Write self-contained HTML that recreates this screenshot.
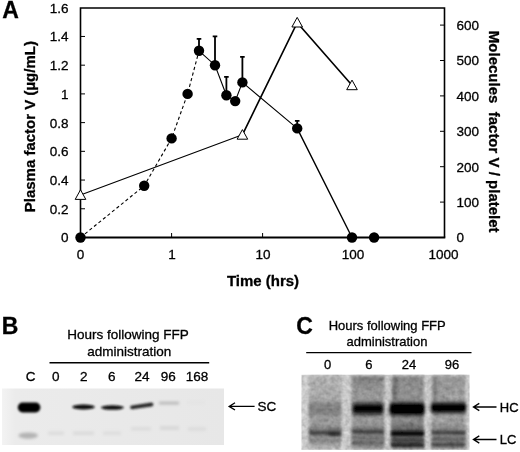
<!DOCTYPE html>
<html><head><meta charset="utf-8"><title>Figure</title>
<style>
html,body{margin:0;padding:0;background:#fff;}
svg{display:block;filter:blur(0.35px);}
text{font-family:"Liberation Sans",Arial,Helvetica,sans-serif;fill:#000;stroke:#000;stroke-width:0.3px;}
.t{font-size:13.5px;}
.tc{font-size:13px;}
.b{font-weight:bold;font-size:15px;}
.p{font-weight:bold;font-size:23px;}
</style></head><body>
<svg width="520" height="452" viewBox="0 0 520 452">
<defs>
<filter id="b1" x="-20%" y="-100%" width="140%" height="300%"><feGaussianBlur stdDeviation="1.1"/></filter>
<filter id="b2" x="-20%" y="-100%" width="140%" height="300%"><feGaussianBlur stdDeviation="1.8"/></filter>
<filter id="b3" x="-20%" y="-100%" width="140%" height="300%"><feGaussianBlur stdDeviation="2.6"/></filter>
<filter id="b05" x="-20%" y="-100%" width="140%" height="300%"><feGaussianBlur stdDeviation="0.6"/></filter>
<linearGradient id="gB" x1="0" x2="1" y1="0" y2="0"><stop offset="0" stop-color="#f3f3f3"/><stop offset="0.06" stop-color="#ebebeb"/><stop offset="1" stop-color="#e7e7e7"/></linearGradient>
<linearGradient id="g0" x1="0" x2="0" y1="0" y2="1"><stop offset="0" stop-color="#c2c2c2"/><stop offset="0.3" stop-color="#bababa"/><stop offset="0.62" stop-color="#adadad"/><stop offset="0.72" stop-color="#929292"/><stop offset="0.9" stop-color="#a8a8a8"/><stop offset="1" stop-color="#c6c6c6"/></linearGradient>
<linearGradient id="g6" x1="0" x2="0" y1="0" y2="1"><stop offset="0" stop-color="#888"/><stop offset="0.2" stop-color="#a6a6a6"/><stop offset="0.62" stop-color="#a8a8a8"/><stop offset="0.72" stop-color="#8c8c8c"/><stop offset="1" stop-color="#969696"/></linearGradient>
<linearGradient id="g24" x1="0" x2="0" y1="0" y2="1"><stop offset="0" stop-color="#949494"/><stop offset="0.25" stop-color="#a0a0a0"/><stop offset="0.6" stop-color="#9c9c9c"/><stop offset="0.72" stop-color="#727272"/><stop offset="1" stop-color="#767676"/></linearGradient>
<linearGradient id="g96" x1="0" x2="0" y1="0" y2="1"><stop offset="0" stop-color="#a2a2a2"/><stop offset="0.25" stop-color="#adadad"/><stop offset="0.62" stop-color="#b0b0b0"/><stop offset="0.74" stop-color="#8e8e8e"/><stop offset="1" stop-color="#929292"/></linearGradient>
<filter id="bh" x="-20%" y="-100%" width="140%" height="300%"><feGaussianBlur stdDeviation="1.6 2.3"/></filter>
<filter id="b15" x="-20%" y="-100%" width="140%" height="300%"><feGaussianBlur stdDeviation="1.6 1.4"/></filter>
<filter id="noise" x="0" y="0" width="100%" height="100%"><feTurbulence type="fractalNoise" baseFrequency="0.22" numOctaves="2" seed="3" result="n"/><feColorMatrix in="n" type="matrix" values="0 0 0 0 0  0 0 0 0 0  0 0 0 0 0  0.35 0.35 0 -0.3 0" result="a"/><feComposite in="a" in2="SourceGraphic" operator="in" result="na"/><feMerge><feMergeNode in="SourceGraphic"/><feMergeNode in="na"/></feMerge></filter>
</defs>
<rect width="520" height="452" fill="#fff"/>

<g stroke="#000" fill="none">
<path d="M80.5 237.5V8H444.5V237.5" stroke-width="1.6"/>
<path d="M79.7 237.5H445.3" stroke-width="1.8"/>
<path d="M80.5 208.78h4.5M80.5 180.06h4.5M80.5 151.34h4.5M80.5 122.62h4.5M80.5 93.90h4.5M80.5 65.18h4.5M80.5 36.46h4.5M444.5 202.10h-4.5M444.5 166.70h-4.5M444.5 131.30h-4.5M444.5 95.90h-4.5M444.5 60.50h-4.5M444.5 25.10h-4.5M171.60 237.5v-4.5M262.60 237.5v-4.5M353.60 237.5v-4.5" stroke-width="1"/>
</g>
<text class="t" x="68.5" y="242.40" text-anchor="end">0</text>
<text class="t" x="68.5" y="213.68" text-anchor="end">0.2</text>
<text class="t" x="68.5" y="184.96" text-anchor="end">0.4</text>
<text class="t" x="68.5" y="156.24" text-anchor="end">0.6</text>
<text class="t" x="68.5" y="127.52" text-anchor="end">0.8</text>
<text class="t" x="68.5" y="98.80" text-anchor="end">1</text>
<text class="t" x="68.5" y="70.08" text-anchor="end">1.2</text>
<text class="t" x="68.5" y="41.36" text-anchor="end">1.4</text>
<text class="t" x="68.5" y="12.64" text-anchor="end">1.6</text>
<text class="t" x="456.5" y="242.40">0</text>
<text class="t" x="456.5" y="207.00">100</text>
<text class="t" x="456.5" y="171.60">200</text>
<text class="t" x="456.5" y="136.20">300</text>
<text class="t" x="456.5" y="100.80">400</text>
<text class="t" x="456.5" y="65.40">500</text>
<text class="t" x="456.5" y="30.00">600</text>
<text class="t" x="80.50" y="259.3" text-anchor="middle">0</text>
<text class="t" x="172.00" y="259.3" text-anchor="middle">1</text>
<text class="t" x="263.00" y="259.3" text-anchor="middle">10</text>
<text class="t" x="353.00" y="259.3" text-anchor="middle">100</text>
<text class="t" x="443.50" y="259.3" text-anchor="middle">1000</text>
<text class="b" x="263" y="286.2" text-anchor="middle">Time (hrs)</text>
<text class="b" transform="translate(35.3 126.7) rotate(-90)" text-anchor="middle">Plasma factor V (µg/mL)</text>
<text class="b" transform="translate(489.3 131.7) rotate(90)" text-anchor="middle" xml:space="preserve">Molecules  factor V / platelet</text>
<text class="p" x="2.3" y="18.3">A</text>
<text class="p" x="1.8" y="334.2">B</text>
<text class="p" x="296.3" y="334.3">C</text>
<g stroke="#000" fill="none" stroke-linecap="round">
<path d="M80.5 237.5 L144.2 185.8 L171.6 138.4 L187.6 93.9 L199.0 50.8" stroke-width="1.1" stroke-dasharray="3.2 2.6" stroke-linecap="butt"/>
<path d="M199.0 50.8 L215.0 65.2 L226.4 95.3 L235.2 101.1 L242.4 82.4 L297.2 128.4" stroke-width="1.1"/>
<path d="M297.2 128.4 L352.0 237.5" stroke-width="1.4"/>
<path d="M80.5 195.0 L242.4 134.8" stroke-width="1.1"/>
<path d="M242.4 134.8 L297.2 22.6 L352.0 85.3" stroke-width="1.6"/>
<path d="M199.0 50.8V38.8M196.7 38.8h4.6M215.0 65.2V36.3M212.7 36.3h4.6M226.4 95.3V76.8M224.1 76.8h4.6M242.4 82.4V56.8M240.1 56.8h4.6M297.2 128.4V120.8M294.9 120.8h4.6" stroke-width="1.8" stroke-linecap="butt"/>
</g>
<circle cx="80.5" cy="237.5" r="5.2" fill="#000"/>
<circle cx="144.2" cy="185.8" r="5.2" fill="#000"/>
<circle cx="171.6" cy="138.4" r="5.2" fill="#000"/>
<circle cx="187.6" cy="93.9" r="5.2" fill="#000"/>
<circle cx="199.0" cy="50.8" r="5.2" fill="#000"/>
<circle cx="215.0" cy="65.2" r="5.2" fill="#000"/>
<circle cx="226.4" cy="95.3" r="5.2" fill="#000"/>
<circle cx="235.2" cy="101.1" r="5.2" fill="#000"/>
<circle cx="242.4" cy="82.4" r="5.2" fill="#000"/>
<circle cx="297.2" cy="128.4" r="5.2" fill="#000"/>
<circle cx="352.0" cy="237.5" r="5.2" fill="#000"/>
<circle cx="374.1" cy="237.5" r="5.2" fill="#000"/>
<path d="M80.5 189.8l5.3 9.6h-10.6z" fill="#fff" stroke="#000" stroke-width="1"/>
<path d="M242.4 129.6l5.3 9.6h-10.6z" fill="#fff" stroke="#000" stroke-width="1"/>
<path d="M297.2 17.4l5.3 9.6h-10.6z" fill="#fff" stroke="#000" stroke-width="1"/>
<path d="M352.0 80.1l5.3 9.6h-10.6z" fill="#fff" stroke="#000" stroke-width="1"/>
<text class="t" x="128" y="339.3" text-anchor="middle">Hours following FFP</text>
<text class="t" x="129.2" y="355.8" text-anchor="middle">administration</text>
<path d="M49.5 362.7H209.2" stroke="#000" stroke-width="1.4"/>
<text class="t" x="30.6" y="381" text-anchor="middle">C</text>
<text class="t" x="55.8" y="381" text-anchor="middle">0</text>
<text class="t" x="83.8" y="381" text-anchor="middle">2</text>
<text class="t" x="111.8" y="381" text-anchor="middle">6</text>
<text class="t" x="142.0" y="381" text-anchor="middle">24</text>
<text class="t" x="168.2" y="381" text-anchor="middle">96</text>
<text class="t" x="197.0" y="381" text-anchor="middle">168</text>
<path d="M254.6 406.4H229.6M235 402.8L229.2 406.4L235 410" stroke="#000" stroke-width="1.35" fill="none"/>
<text class="t" x="257.6" y="411">SC</text>
<g>
<rect x="2" y="388.5" width="222" height="56.5" fill="url(#gB)" filter="url(#b05)"/>
<g filter="url(#b1)">
<rect x="17.8" y="402.6" width="22.6" height="9.8" rx="4.8" fill="#050505"/>
<ellipse cx="83.5" cy="407" rx="11.3" ry="2.4" fill="#0a0a0a"/>
<ellipse cx="112.4" cy="407.6" rx="11.6" ry="2.25" fill="#0e0e0e"/>
<path d="M132 407.3L151.5 404.5" stroke="#2c2c2c" stroke-width="3.8" stroke-linecap="round"/>
</g>
<g filter="url(#b2)">
<ellipse cx="28.2" cy="435.6" rx="9.8" ry="3.2" fill="#b2b2b2"/>
<rect x="159" y="401.8" width="20" height="2.6" fill="#b4b4b4"/>
<rect x="187" y="401.5" width="18" height="2" fill="#e2e2e2"/>
<rect x="48" y="431.5" width="16" height="3.5" fill="#dcdcdc"/>
<rect x="73" y="431.5" width="21" height="3.5" fill="#dadada"/>
<rect x="103" y="431.5" width="18" height="3.5" fill="#dddddd"/>
<rect x="131" y="427" width="20" height="3.5" fill="#dcdcdc"/>
<rect x="160" y="426" width="19" height="4" fill="#d8d8d8"/>
<rect x="188" y="427.5" width="18" height="3" fill="#d9d9d9"/>
</g>
</g>
<text class="tc" x="387.2" y="329.6" text-anchor="middle">Hours following FFP</text>
<text class="tc" x="387" y="345.6" text-anchor="middle">administration</text>
<path d="M306.2 352.6H471.5" stroke="#000" stroke-width="1.4"/>
<text class="tc" x="327.5" y="368.8" text-anchor="middle">0</text>
<text class="tc" x="368.8" y="368.8" text-anchor="middle">6</text>
<text class="tc" x="409.0" y="368.8" text-anchor="middle">24</text>
<text class="tc" x="452.0" y="368.8" text-anchor="middle">96</text>
<path d="M496.5 407.0H474M479.3 403.4L473.5 407.0L479.3 410.6" stroke="#000" stroke-width="1.35" fill="none"/>
<text class="tc" x="499.8" y="411.8">HC</text>
<path d="M496.5 439.5H474M479.3 435.9L473.5 439.5L479.3 443.1" stroke="#000" stroke-width="1.35" fill="none"/>
<text class="tc" x="499.8" y="444.3">LC</text>
<g filter="url(#noise)">
<rect x="301.5" y="374.8" width="168" height="75" fill="#dfdfdf" filter="url(#b05)"/>
<g filter="url(#b2)">
<rect x="309.0" y="376" width="32.5" height="73" fill="url(#g0)"/>
<rect x="351.5" y="376" width="32.7" height="73" fill="url(#g6)"/>
<rect x="391.3" y="376" width="32.7" height="73" fill="url(#g24)"/>
<rect x="431.5" y="376" width="34.2" height="73" fill="url(#g96)"/>
<rect x="393" y="376" width="4" height="24" fill="#777"/>
<rect x="433" y="376" width="4" height="24" fill="#888"/>
</g>
<g filter="url(#bh)">
<rect x="309" y="402.5" width="32" height="13" fill="#8e8e8e"/>
<rect x="352.5" y="403.2" width="31" height="11" rx="3" fill="#0e0e0e"/>
<rect x="389.5" y="402.8" width="35" height="12.5" rx="3" fill="#020202"/>
<rect x="431" y="402.8" width="35" height="10" rx="3" fill="#060606"/>
</g>
<g filter="url(#b15)">
<rect x="309" y="430.5" width="32" height="4.5" fill="#505050"/>
<rect x="328" y="431.5" width="13" height="4.5" fill="#303030"/>
<rect x="309" y="439.2" width="32" height="2" fill="#808080"/>
<rect x="352" y="430" width="32" height="3.5" fill="#404040"/>
<rect x="352" y="437" width="32" height="2.2" fill="#707070"/>
<rect x="352" y="441.8" width="32" height="2.2" fill="#606060"/>
<rect x="391" y="431" width="33" height="5" fill="#0c0c0c"/>
<rect x="391" y="438.8" width="33" height="2.6" fill="#383838"/>
<rect x="391" y="443.3" width="33" height="3" fill="#181818"/>
<rect x="431.5" y="431.3" width="34" height="2.8" fill="#363636"/>
<rect x="431.5" y="438" width="34" height="2.4" fill="#5c5c5c"/>
<rect x="431.5" y="443.2" width="34" height="2.6" fill="#383838"/>
</g>
</g>
</svg></body></html>
